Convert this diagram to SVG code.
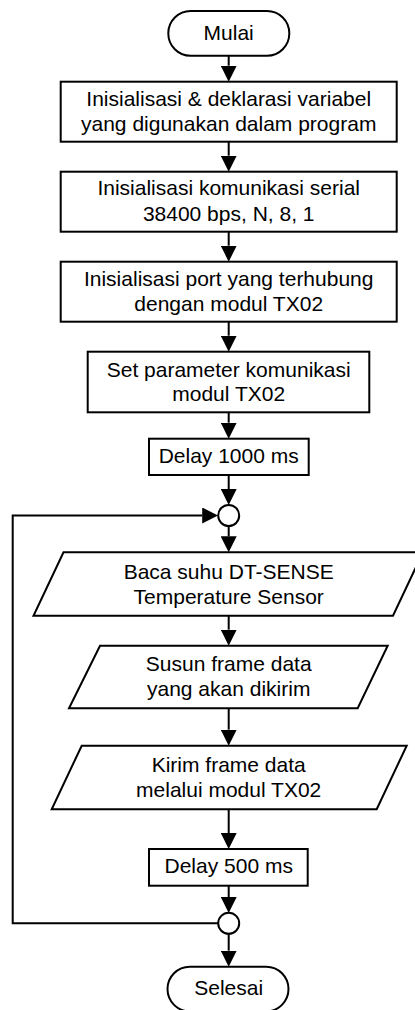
<svg xmlns="http://www.w3.org/2000/svg" width="415" height="1010" viewBox="0 0 415 1010">
<style>
.s{fill:#fff;stroke:#000;stroke-width:2}
.t{font-family:"Liberation Sans",Arial,sans-serif;font-size:21px;fill:#000;text-anchor:middle}
.c{fill:none;stroke:#000;stroke-width:2}
</style>
<defs>
<marker id="ah" viewBox="0 0 16 16" refX="0" refY="8" markerWidth="16" markerHeight="16" markerUnits="userSpaceOnUse" orient="auto">
<path d="M0,0 L16,8 L0,16 z" fill="#000"/>
</marker>
</defs>
<rect width="415" height="1010" fill="#fff"/>
<g id="connectors">
<path class="c" d="M228.7,55.7 V65.7" marker-end="url(#ah)"/>
<path class="c" d="M228.7,141.7 V155.7" marker-end="url(#ah)"/>
<path class="c" d="M228.7,231.7 V245.7" marker-end="url(#ah)"/>
<path class="c" d="M228.7,321.7 V335.7" marker-end="url(#ah)"/>
<path class="c" d="M228.7,412.3 V422.7" marker-end="url(#ah)"/>
<path class="c" d="M228.7,475 V489" marker-end="url(#ah)"/>
<path class="c" d="M228.7,526 V536.3" marker-end="url(#ah)"/>
<path class="c" d="M228.7,615.7 V629.7" marker-end="url(#ah)"/>
<path class="c" d="M228.7,708.3 V729.7" marker-end="url(#ah)"/>
<path class="c" d="M228.7,809.3 V833" marker-end="url(#ah)"/>
<path class="c" d="M228.7,885.7 V897" marker-end="url(#ah)"/>
<path class="c" d="M228.7,934 V950.7" marker-end="url(#ah)"/>
<path class="c" d="M218.2,923.3 H12.7 V515.5 H202.2" marker-end="url(#ah)"/>
</g>
<g id="mulai">
<rect class="s" x="168.3" y="11" width="121" height="44.7" rx="22.3"/>
<text class="t" x="228.7" y="40">Mulai</text>
</g>
<g id="init-var">
<rect class="s" x="60.7" y="81.7" width="336" height="60"/>
<text class="t" x="228.7" y="105.5">Inisialisasi &amp; deklarasi variabel</text>
<text class="t" x="228.7" y="130.5">yang digunakan dalam program</text>
</g>
<g id="init-serial">
<rect class="s" x="60.7" y="171.7" width="336" height="60"/>
<text class="t" x="228.7" y="195.3">Inisialisasi komunikasi serial</text>
<text class="t" x="228.7" y="220.7">38400 bps, N, 8, 1</text>
</g>
<g id="init-port">
<rect class="s" x="60.7" y="261.7" width="336" height="60"/>
<text class="t" x="228.7" y="285.7">Inisialisasi port yang terhubung</text>
<text class="t" x="228.7" y="310.7">dengan modul TX02</text>
</g>
<g id="set-param">
<rect class="s" x="87.7" y="351.7" width="281.6" height="60.6"/>
<text class="t" x="228.7" y="376.5">Set parameter komunikasi</text>
<text class="t" x="228.7" y="400.7">modul TX02</text>
</g>
<g id="delay1000">
<rect class="s" x="149" y="438.7" width="159.7" height="36.3"/>
<text class="t" x="228.7" y="463.3">Delay 1000 ms</text>
</g>
<g id="junction1">
<circle class="s" cx="228.7" cy="515.5" r="10.5"/>
</g>
<g id="baca-suhu">
<polygon class="s" points="63.5,552.3 423,552.3 393,615.7 33.5,615.7"/>
<text class="t" x="228.7" y="579">Baca suhu DT-SENSE</text>
<text class="t" x="228.7" y="604">Temperature Sensor</text>
</g>
<g id="susun-frame">
<polygon class="s" points="100,645.7 387.7,645.7 357.7,708.3 69,708.3"/>
<text class="t" x="228.7" y="671">Susun frame data</text>
<text class="t" x="228.7" y="695.5">yang akan dikirim</text>
</g>
<g id="kirim-frame">
<polygon class="s" points="81.7,745.7 406.7,745.7 376.7,809.3 51.7,809.3"/>
<text class="t" x="228.7" y="771.7">Kirim frame data</text>
<text class="t" x="228.7" y="796.7">melalui modul TX02</text>
</g>
<g id="delay500">
<rect class="s" x="149" y="849" width="158.7" height="36.7"/>
<text class="t" x="228.7" y="873.3">Delay 500 ms</text>
</g>
<g id="junction2">
<circle class="s" cx="228.7" cy="923.3" r="10.5"/>
</g>
<g id="selesai">
<rect class="s" x="167.5" y="966.7" width="121" height="44.7" rx="22.3"/>
<text class="t" x="228.7" y="995">Selesai</text>
</g>
</svg>
